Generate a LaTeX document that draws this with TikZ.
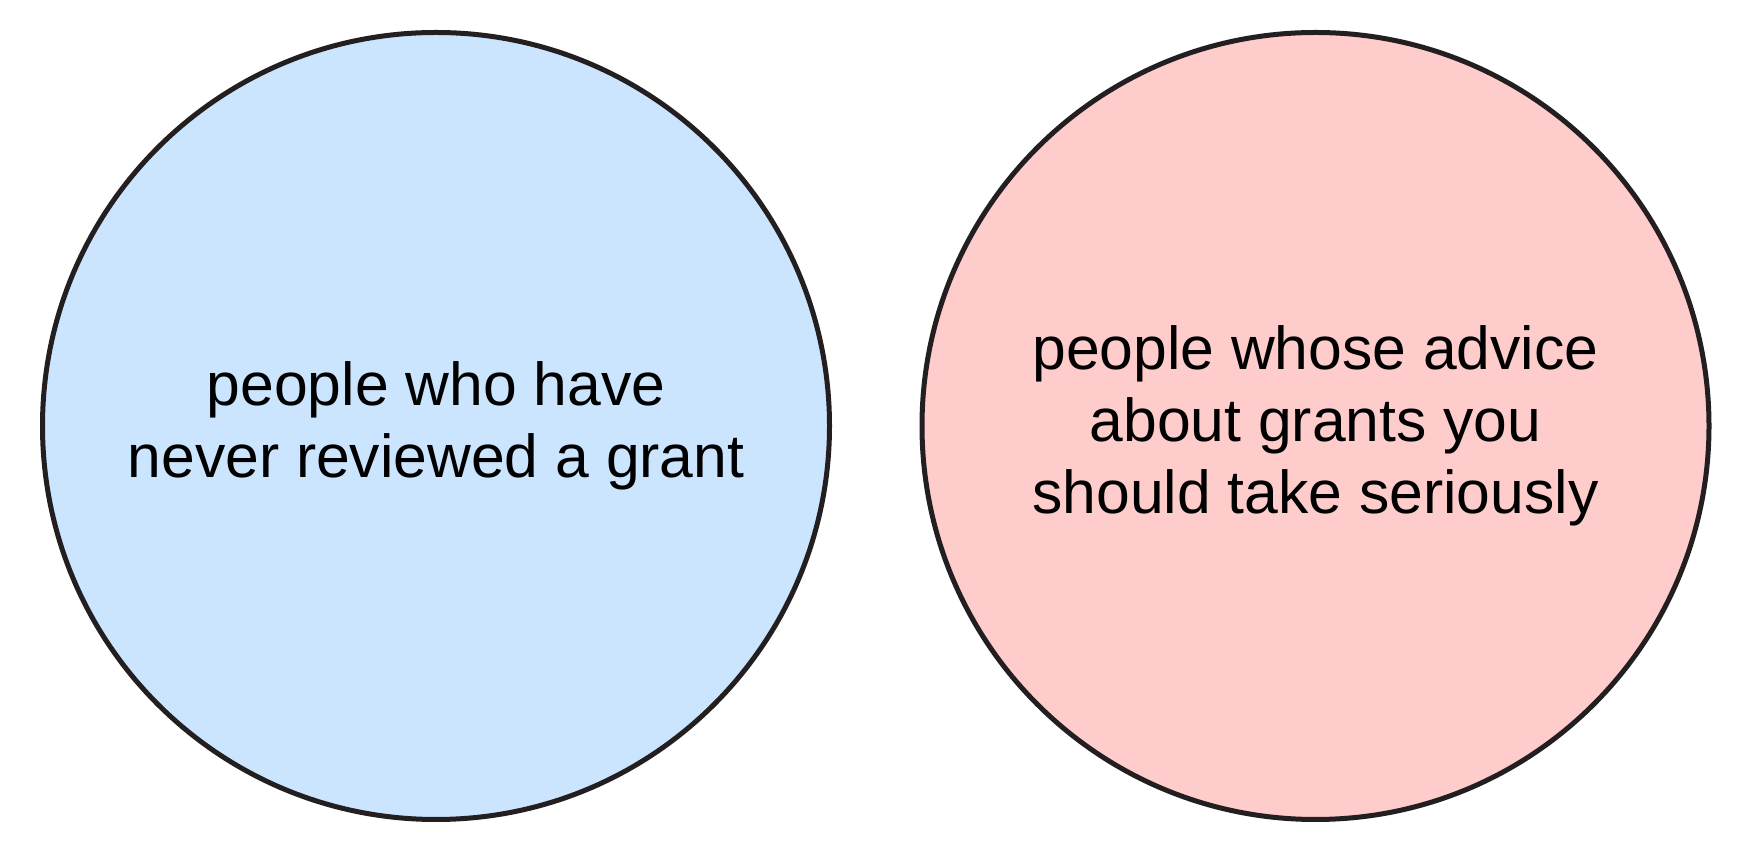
\documentclass[tikz,border=0pt]{standalone}
\usepackage{fontspec}
\setmainfont{Liberation Sans}
\usepackage{xcolor}
\usepackage{tikz}
\usetikzlibrary{positioning}
\definecolor{ink}{HTML}{231F20}
\definecolor{lightblue}{HTML}{CCE5FF}
\definecolor{lightpink}{HTML}{FFCCCC}
\tikzset{
  setcircle/.style={
    circle,draw=ink,line width=1mm,minimum size=157.4mm,
    inner sep=0pt,outer sep=0pt,align=center,
    font=\fontsize{34.5}{41}\selectfont
  }
}

\begin{document}
\begin{tikzpicture}
\useasboundingbox (0,0) rectangle (35.24,17.12);
\node[setcircle,fill=lightblue] (never) at (8.72,8.60)
{people who have\\never reviewed a grant};
\node[setcircle,fill=lightpink,right=18.5mm of never] (advice)
{people whose advice\\about grants you\\should take seriously};
\end{tikzpicture}
\end{document}
